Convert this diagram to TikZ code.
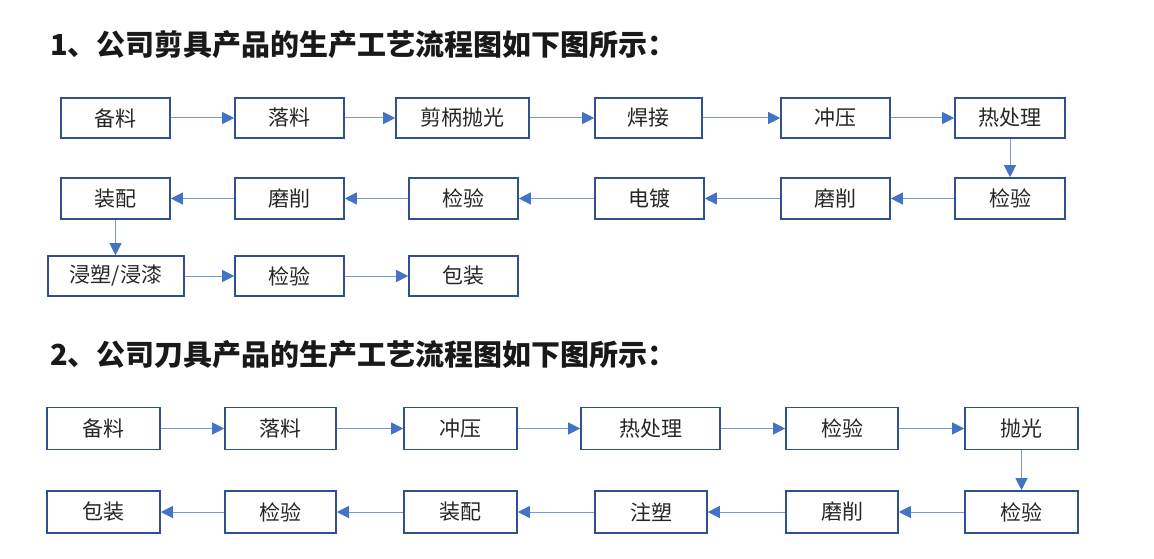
\documentclass[tikz,border=0pt]{standalone}
\usepackage{fontspec}
\usetikzlibrary{arrows.meta}
\newfontfamily\cjk{Noto Sans CJK SC}
\definecolor{boxblue}{RGB}{47,82,143}
\definecolor{headblue}{RGB}{68,114,196}
\definecolor{lineblue}{RGB}{120,155,215}
\tikzset{
  stepbox/.style={draw=boxblue, line width=1.6pt, fill=white, inner sep=0pt,
    font=\cjk\fontsize{21}{21}\selectfont, text=black!85},
  flow/.style={draw=lineblue, line width=1pt,
    -{Triangle[length=12pt,width=12pt,fill=headblue,color=headblue]}},
  titletext/.style={anchor=west, inner sep=0pt, font=\cjk\bfseries\fontsize{29}{29}\selectfont, text=black!90}
}
\begin{document}
\begin{tikzpicture}[x=1pt,y=-1pt]
\useasboundingbox (0,0) rectangle (1154,559);
% title 1
\node[titletext] (t1) at (50,45) {1、公司剪具产品的生产工艺流程图如下图所示：};
% row 1
\node[stepbox, minimum width=109pt, minimum height=40pt] (a1) at (115.5,118) {备料};
\node[stepbox, minimum width=109pt, minimum height=40pt] (a2) at (289.5,118) {落料};
\node[stepbox, minimum width=133pt, minimum height=40pt] (a3) at (462.5,118) {剪柄抛光};
\node[stepbox, minimum width=107pt, minimum height=40pt] (a4) at (648.5,118) {焊接};
\node[stepbox, minimum width=109pt, minimum height=40pt] (a5) at (835.5,118) {冲压};
\node[stepbox, minimum width=110pt, minimum height=40pt] (a6) at (1010,118) {热处理};
% row 2
\node[stepbox, minimum width=109pt, minimum height=41pt] (b1) at (115.5,198.5) {装配};
\node[stepbox, minimum width=109pt, minimum height=41pt] (b2) at (289.5,198.5) {磨削};
\node[stepbox, minimum width=109pt, minimum height=41pt] (b3) at (463.5,198.5) {检验};
\node[stepbox, minimum width=109pt, minimum height=41pt] (b4) at (649.5,198.5) {电镀};
\node[stepbox, minimum width=109pt, minimum height=41pt] (b5) at (835.5,198.5) {磨削};
\node[stepbox, minimum width=110pt, minimum height=41pt] (b6) at (1010,198.5) {检验};
% row 3
\node[stepbox, minimum width=136pt, minimum height=40pt] (c1) at (116,276) {浸塑/浸漆};
\node[stepbox, minimum width=109pt, minimum height=40pt] (c2) at (289.5,276) {检验};
\node[stepbox, minimum width=109pt, minimum height=40pt] (c3) at (463.5,276) {包装};
% arrows part 1
\draw[flow] (a1) -- (a2);
\draw[flow] (a2) -- (a3);
\draw[flow] (a3) -- (a4);
\draw[flow] (a4) -- (a5);
\draw[flow] (a5) -- (a6);
\draw[flow] (a6) -- (b6);
\draw[flow] (b6) -- (b5);
\draw[flow] (b5) -- (b4);
\draw[flow] (b4) -- (b3);
\draw[flow] (b3) -- (b2);
\draw[flow] (b2) -- (b1);
\draw[flow] (b1.south) -- (b1.south |- c1.north);
\draw[flow] (c1) -- (c2);
\draw[flow] (c2) -- (c3);
% title 2
\node[titletext] (t2) at (50,355) {2、公司刀具产品的生产工艺流程图如下图所示：};
% row 4
\node[stepbox, minimum width=113pt, minimum height=42pt] (d1) at (103.5,428.5) {备料};
\node[stepbox, minimum width=111pt, minimum height=42pt] (d2) at (280.5,428.5) {落料};
\node[stepbox, minimum width=113pt, minimum height=42pt] (d3) at (460.5,428.5) {冲压};
\node[stepbox, minimum width=139pt, minimum height=42pt] (d4) at (650.5,428.5) {热处理};
\node[stepbox, minimum width=112pt, minimum height=42pt] (d5) at (842,428.5) {检验};
\node[stepbox, minimum width=113pt, minimum height=42pt] (d6) at (1021.5,428.5) {抛光};
% row 5
\node[stepbox, minimum width=113pt, minimum height=42pt] (e1) at (103.5,512) {包装};
\node[stepbox, minimum width=111pt, minimum height=42pt] (e2) at (280.5,512) {检验};
\node[stepbox, minimum width=113pt, minimum height=42pt] (e3) at (460.5,512) {装配};
\node[stepbox, minimum width=112pt, minimum height=42pt] (e4) at (651,512) {注塑};
\node[stepbox, minimum width=112pt, minimum height=42pt] (e5) at (842,512) {磨削};
\node[stepbox, minimum width=113pt, minimum height=42pt] (e6) at (1021.5,512) {检验};
% arrows part 2
\draw[flow] (d1) -- (d2);
\draw[flow] (d2) -- (d3);
\draw[flow] (d3) -- (d4);
\draw[flow] (d4) -- (d5);
\draw[flow] (d5) -- (d6);
\draw[flow] (d6) -- (e6);
\draw[flow] (e6) -- (e5);
\draw[flow] (e5) -- (e4);
\draw[flow] (e4) -- (e3);
\draw[flow] (e3) -- (e2);
\draw[flow] (e2) -- (e1);
\end{tikzpicture}
\end{document}
